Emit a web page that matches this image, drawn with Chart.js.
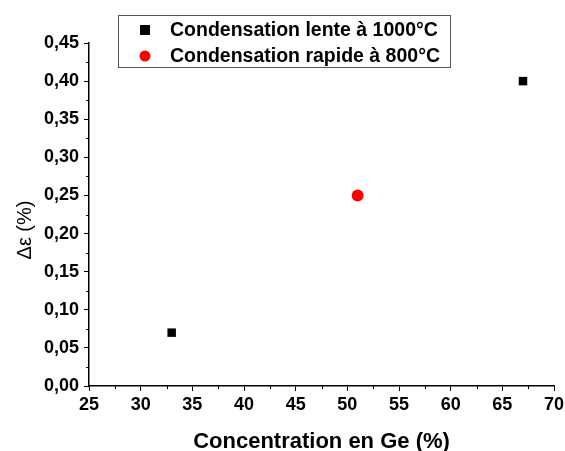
<!DOCTYPE html>
<html>
<head>
<meta charset="utf-8">
<script src="https://cdn.jsdelivr.net/npm/chart.js@4"></script>
<style>
  html, body { margin: 0; padding: 0; background: #fff; }
  #wrap { width: 565px; height: 451px; }
</style>
</head>
<body>
<div id="wrap"><canvas id="myChart" width="565" height="451"></canvas></div>
<script>
// donnees
const seriesNames = ['Condensation lente à 1000°C', 'Condensation rapide à 800°C'];
const lenteX = [33, 67];
const lenteY = [0.07, 0.40];
const rapideX = [51];
const rapideY = [0.25];
const xTicks = [25, 30, 35, 40, 45, 50, 55, 60, 65, 70];
const yTicks = [0, 0.05, 0.10, 0.15, 0.20, 0.25, 0.30, 0.35, 0.40, 0.45];
const yTitle = 'Δε (%)';

const FONT = '"Liberation Sans", Arial, sans-serif';

function toPoints(xs, ys) {
    return xs.map((x, i) => ({ x: x, y: ys[i] }));
}

// petites graduations (minor ticks) entre les graduations principales
const minorTicks = {
    id: 'minorTicks',
    afterDraw(chart) {
        const ctx = chart.ctx;
        const xs = chart.scales.x;
        const ys = chart.scales.y;
        ctx.save();
        ctx.strokeStyle = '#000';
        ctx.lineWidth = 1;
        ctx.beginPath();
        for (let i = 0; i < xTicks.length - 1; i++) {
            const px = Math.round(xs.getPixelForValue((xTicks[i] + xTicks[i + 1]) / 2)) + 0.5;
            ctx.moveTo(px, ys.bottom);
            ctx.lineTo(px, ys.bottom + 3);
        }
        for (let i = 0; i < yTicks.length - 1; i++) {
            const py = Math.round(ys.getPixelForValue((yTicks[i] + yTicks[i + 1]) / 2)) + 0.5;
            ctx.moveTo(xs.left, py);
            ctx.lineTo(xs.left - 3, py);
        }
        ctx.stroke();
        ctx.restore();
    }
};

// titre de l'axe y (un peu decale vers le bas comme sur l'original)
const yAxisTitle = {
    id: 'yAxisTitle',
    afterDraw(chart) {
        const ctx = chart.ctx;
        ctx.save();
        ctx.translate(25, 230);
        ctx.rotate(-Math.PI / 2);
        ctx.font = '20px ' + FONT;
        ctx.fillStyle = '#000';
        ctx.textAlign = 'center';
        ctx.textBaseline = 'middle';
        ctx.fillText(yTitle, 0, 0);
        ctx.restore();
    }
};

// legende encadree dessinee a la main
const boxLegend = {
    id: 'boxLegend',
    afterDraw(chart) {
        const ctx = chart.ctx;
        ctx.save();
        ctx.strokeStyle = '#555';
        ctx.lineWidth = 1;
        ctx.strokeRect(118.5, 15.5, 332, 52);
        ctx.font = 'bold 19.5px ' + FONT;
        ctx.textBaseline = 'middle';
        chart.data.datasets.forEach((ds, i) => {
            const y = 30 + i * 26;
            ctx.fillStyle = ds.backgroundColor;
            if (ds.pointStyle === 'rect') {
                ctx.fillRect(140, y - 5, 10, 10);
            } else {
                ctx.beginPath();
                ctx.arc(145, y, 5.5, 0, Math.PI * 2);
                ctx.fill();
            }
            ctx.fillStyle = '#000';
            ctx.fillText(ds.label, 170, y + 1);
        });
        ctx.restore();
    }
};

const ctx = document.getElementById('myChart').getContext('2d');
const chart = new Chart(ctx, {
    type: 'scatter',
    data: {
        datasets: [
            {
                label: seriesNames[0],
                data: toPoints(lenteX, lenteY),
                backgroundColor: '#000',
                borderColor: '#000',
                pointStyle: 'rect',
                pointRadius: 6,
                pointBorderWidth: 0
            },
            {
                label: seriesNames[1],
                data: toPoints(rapideX, rapideY),
                backgroundColor: '#ff0000',
                borderColor: '#ff0000',
                pointStyle: 'circle',
                pointRadius: 6,
                pointBorderWidth: 0
            }
        ]
    },
    options: {
        responsive: false,
        animation: false,
        layout: { padding: { top: 43, right: 11, left: 0, bottom: 0 } },
        plugins: {
            legend: { display: false },
            tooltip: { enabled: false }
        },
        scales: {
            x: {
                type: 'linear',
                min: 25,
                max: 70,
                afterBuildTicks: (s) => { s.ticks = xTicks.map(v => ({ value: v })); },
                afterFit: (s) => { s.height = 65; s.paddingRight = 0; s.paddingLeft = 0; },
                border: { display: true, color: '#000', width: 1.5 },
                grid: { drawOnChartArea: false, drawTicks: true, tickLength: 5, color: '#000', tickWidth: 1 },
                ticks: {
                    color: '#000',
                    padding: 3,
                    font: { family: FONT, size: 18, weight: 'bold' },
                    callback: (v) => String(v)
                },
                title: {
                    display: true,
                    text: 'Concentration en Ge (%)',
                    color: '#000',
                    font: { family: FONT, size: 22, weight: 'bold' },
                    padding: { top: 20, bottom: -4 }
                }
            },
            y: {
                type: 'linear',
                min: 0,
                max: 0.45,
                afterBuildTicks: (s) => { s.ticks = yTicks.map(v => ({ value: v })); },
                afterFit: (s) => { s.width = 89; s.paddingTop = 0; s.paddingBottom = 0; },
                border: { display: true, color: '#000', width: 1.5 },
                grid: { drawOnChartArea: false, drawTicks: true, tickLength: 5, color: '#000', tickWidth: 1 },
                ticks: {
                    color: '#000',
                    padding: 5,
                    font: { family: FONT, size: 18, weight: 'bold' },
                    callback: (v) => v.toFixed(2).replace('.', ',')
                }
            }
        }
    },
    plugins: [minorTicks, yAxisTitle, boxLegend]
});
</script>
</body>
</html>
